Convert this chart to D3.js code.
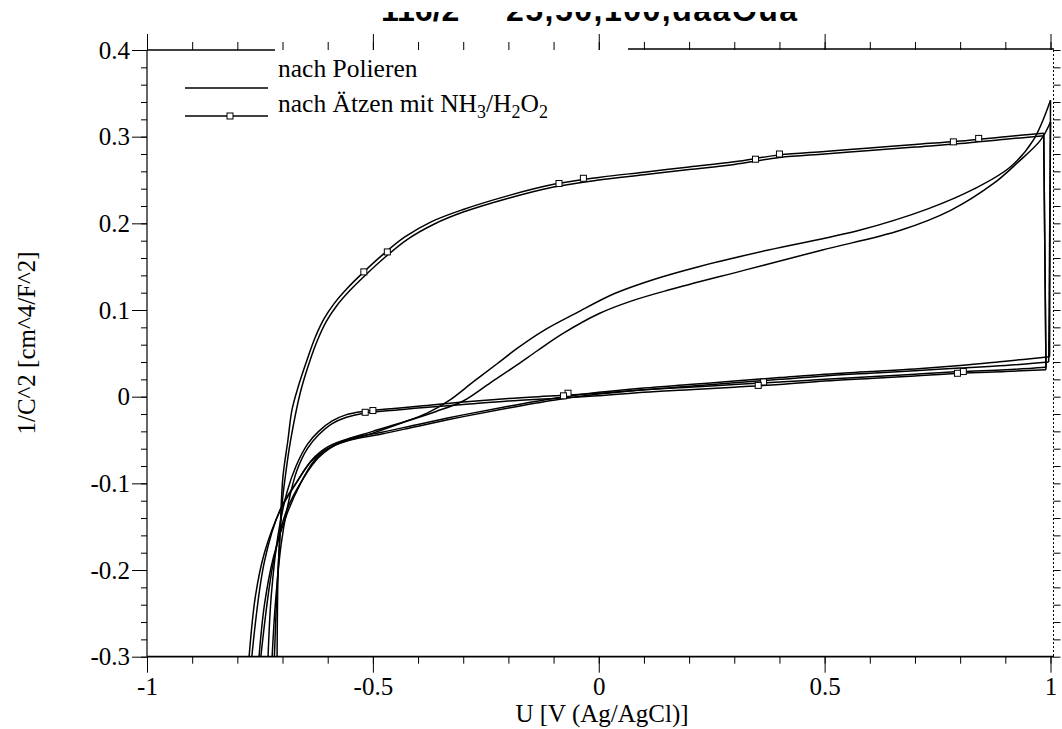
<!DOCTYPE html>
<html>
<head>
<meta charset="utf-8">
<script src="https://cdn.jsdelivr.net/npm/d3@7"></script>
<style>
  body { margin: 0; background: #fff; }
  svg { display: block; }
  .tick text { font-family: "Liberation Serif", "Times New Roman", serif; font-size: 25px; fill: #000; }
</style>
</head>
<body>
<svg id="chart" width="1062" height="729"></svg>
<script>
// ---- Mott-Schottky sweeps: 1/C^2 vs. U, two cycles per surface treatment ----

// "nach Polieren": rising branch, two cycles
const polUp1X = [-0.768, -0.74, -0.705, -0.668, -0.632, -0.58, -0.5, -0.44, -0.38, -0.33, -0.278, -0.225, -0.18, -0.123, -0.05, 0.035, 0.12, 0.221, 0.373, 0.577, 0.73, 0.832, 0.911, 0.962, 1.0];
const polUp1Y = [-0.3, -0.19, -0.13, -0.098, -0.072, -0.055, -0.042, -0.031, -0.019, -0.004, 0.017, 0.038, 0.056, 0.076, 0.0965, 0.119, 0.135, 0.150, 0.169, 0.192, 0.217, 0.240, 0.265, 0.296, 0.342];
const polUp2X = [-0.748, -0.72, -0.69, -0.655, -0.62, -0.57, -0.5, -0.43, -0.36, -0.3, -0.24, -0.18, -0.136, -0.079, 0.001, 0.07, 0.154, 0.323, 0.493, 0.668, 0.779, 0.874, 0.927, 0.978, 1.0];
const polUp2Y = [-0.3, -0.19, -0.13, -0.095, -0.07, -0.052, -0.04, -0.029, -0.017, -0.005, 0.016, 0.037, 0.053, 0.073, 0.096, 0.110, 0.123, 0.146, 0.169, 0.192, 0.215, 0.246, 0.27, 0.296, 0.317];
// "nach Polieren": return branch after the reversal at +1 V
const polDown1X = [0.998, 0.9, 0.8, 0.7, 0.6, 0.5, 0.4, 0.3, 0.2, 0.1, 0.0, -0.1, -0.2, -0.3, -0.4, -0.48, -0.55, -0.6, -0.635, -0.67, -0.705, -0.74, -0.76, -0.774];
const polDown1Y = [0.046, 0.041, 0.036, 0.032, 0.029, 0.026, 0.022, 0.018, 0.014, 0.010, 0.005, -0.002, -0.011, -0.021, -0.032, -0.041, -0.048, -0.058, -0.073, -0.10, -0.131, -0.18, -0.23, -0.30];
const polDown2X = [0.996, 0.9, 0.8, 0.7, 0.6, 0.5, 0.4, 0.3, 0.2, 0.1, 0.0, -0.1, -0.2, -0.3, -0.4, -0.48, -0.55, -0.6, -0.63, -0.66, -0.69, -0.72, -0.74, -0.752];
const polDown2Y = [0.040, 0.036, 0.033, 0.030, 0.027, 0.024, 0.020, 0.016, 0.012, 0.008, 0.003, -0.004, -0.013, -0.023, -0.034, -0.043, -0.050, -0.060, -0.074, -0.10, -0.135, -0.185, -0.24, -0.30];

// "nach Ätzen mit NH3/H2O2": rising branch, two cycles
const etchUp1X = [-0.712, -0.71, -0.705, -0.699, -0.688, -0.679, -0.665, -0.646, -0.628, -0.608, -0.585, -0.555, -0.52, -0.48, -0.43, -0.37, -0.3, -0.2, -0.1, 0.0, 0.1, 0.2, 0.3, 0.4, 0.5, 0.6, 0.7, 0.8, 0.9, 0.985];
const etchUp1Y = [-0.30, -0.208, -0.15, -0.092, -0.05, -0.015, 0.012, 0.042, 0.068, 0.090, 0.108, 0.126, 0.144, 0.163, 0.184, 0.202, 0.216, 0.232, 0.245, 0.253, 0.259, 0.265, 0.271, 0.279, 0.283, 0.287, 0.291, 0.295, 0.300, 0.304];
const etchUp2X = [-0.718, -0.712, -0.706, -0.70, -0.692, -0.683, -0.661, -0.639, -0.622, -0.603, -0.58, -0.55, -0.515, -0.475, -0.425, -0.365, -0.3, -0.2, -0.1, 0.0, 0.1, 0.2, 0.3, 0.4, 0.5, 0.6, 0.7, 0.8, 0.9, 0.985];
const etchUp2Y = [-0.30, -0.22, -0.165, -0.119, -0.085, -0.053, 0.004, 0.042, 0.066, 0.087, 0.105, 0.123, 0.141, 0.160, 0.181, 0.199, 0.213, 0.229, 0.242, 0.250, 0.256, 0.262, 0.268, 0.276, 0.280, 0.284, 0.288, 0.292, 0.297, 0.301];
// "nach Ätzen mit NH3/H2O2": return branch
const etchDown1X = [0.99, 0.9, 0.8, 0.7, 0.6, 0.5, 0.4, 0.3, 0.2, 0.1, 0.0, -0.1, -0.2, -0.3, -0.4, -0.46, -0.52, -0.56, -0.59, -0.62, -0.645, -0.67, -0.69, -0.71, -0.725, -0.732];
const etchDown1Y = [0.034, 0.031, 0.029, 0.026, 0.023, 0.020, 0.017, 0.014, 0.011, 0.008, 0.004, 0.001, -0.002, -0.006, -0.011, -0.014, -0.017, -0.021, -0.028, -0.040, -0.055, -0.08, -0.11, -0.16, -0.23, -0.30];
const etchDown2X = [0.99, 0.9, 0.8, 0.7, 0.6, 0.5, 0.4, 0.3, 0.2, 0.1, 0.0, -0.1, -0.2, -0.3, -0.4, -0.46, -0.52, -0.56, -0.59, -0.62, -0.645, -0.668, -0.686, -0.703, -0.716, -0.723];
const etchDown2Y = [0.031, 0.029, 0.027, 0.024, 0.021, 0.018, 0.014, 0.011, 0.008, 0.005, 0.001, -0.002, -0.005, -0.009, -0.013, -0.016, -0.019, -0.024, -0.031, -0.044, -0.060, -0.085, -0.12, -0.17, -0.24, -0.30];

// Square symbols on the etched-surface sweeps
const etchMarkUpX = [-0.52, -0.468, -0.088, -0.034, 0.347, 0.40, 0.785, 0.841];
const etchMarkUpY = [0.144, 0.167, 0.246, 0.252, 0.274, 0.280, 0.294, 0.298];
const etchMarkDownX = [0.807, 0.794, 0.365, 0.353, -0.068, -0.078, -0.50, -0.517];
const etchMarkDownY = [0.029, 0.027, 0.017, 0.013, 0.004, 0.001, -0.016, -0.018];

// Axis ticks
const xMajorTicks = [-1, -0.5, 0, 0.5, 1];
const xTickLabels = ["-1", "-0.5", "0", "0.5", "1"];
const xMinorTicks = d3.range(-10, 11).map(i => i / 10);
const yMajorTicks = [0.4, 0.3, 0.2, 0.1, 0, -0.1, -0.2, -0.3];
const yTickLabels = ["0.4", "0.3", "0.2", "0.1", "0", "-0.1", "-0.2", "-0.3"];
const yMinorTicks = d3.range(-15, 21).map(i => i / 50);

const legendLabels = ["nach Polieren", "nach Ätzen mit NH3/H2O2"];
const titleParts = ["116/2", "25,50,100,daaOua"];

// ---- drawing ----
const svg = d3.select("#chart");
const x = d3.scaleLinear().domain([-1, 1]).range([147, 1050.5]);
const y = d3.scaleLinear().domain([-0.3, 0.4]).range([656.7, 50]);
const serif = '"Liberation Serif", "Times New Roman", serif';

// title, only its lower part shows below the page edge
svg.append("clipPath").attr("id", "titleClip")
  .append("rect").attr("x", 0).attr("y", 12).attr("width", 1062).attr("height", 18);
const title = svg.append("g").attr("clip-path", "url(#titleClip)")
  .style("font-family", '"Liberation Sans", Arial, sans-serif')
  .style("font-weight", "bold").style("font-size", "32px");
title.append("text").attr("x", 381).attr("y", 21).text(titleParts[0]);
title.append("text").attr("x", 506).attr("y", 21).attr("letter-spacing", 1.5).text(titleParts[1]);

// frame
const frame = svg.append("g").attr("stroke", "#000").attr("fill", "none");
frame.append("line").attr("x1", x(-1)).attr("x2", x(-1)).attr("y1", y(0.4)).attr("y2", y(-0.3)).attr("stroke-width", 1.2);
frame.append("line").attr("x1", x(-1)).attr("x2", 1054).attr("y1", y(-0.3)).attr("y2", y(-0.3)).attr("stroke-width", 1.8);
frame.append("line").attr("x1", x(-1)).attr("x2", 275).attr("y1", y(0.4)).attr("y2", y(0.4)).attr("stroke-width", 1.4);
frame.append("line").attr("x1", 628).attr("x2", 1054).attr("y1", y(0.4) - 1).attr("y2", y(0.4) - 1).attr("stroke-width", 1.4);
frame.append("line").attr("x1", 1053.5).attr("x2", 1053.5).attr("y1", y(0.4)).attr("y2", y(-0.3))
  .attr("stroke-width", 1).attr("stroke-dasharray", "2,2");

function cleanAxis(g) { g.select(".domain").remove(); g.selectAll(".tick line").attr("stroke", "#000"); }

// bottom axis
svg.append("g").attr("transform", `translate(0,${y(-0.3)})`)
  .call(d3.axisBottom(x).tickValues(xMinorTicks).tickSize(7).tickFormat(""))
  .call(cleanAxis);
svg.append("g").attr("transform", `translate(0,${y(-0.3)})`)
  .call(d3.axisBottom(x).tickValues(xMajorTicks).tickSize(16).tickPadding(5)
    .tickFormat((d, i) => xTickLabels[i]))
  .call(cleanAxis);

// top axis (outward ticks)
svg.append("g").attr("transform", `translate(0,${y(0.4)})`)
  .call(d3.axisTop(x).tickValues(xMinorTicks).tickSize(8).tickFormat(""))
  .call(cleanAxis);
svg.append("g").attr("transform", `translate(0,${y(0.4)})`)
  .call(d3.axisTop(x).tickValues(xMajorTicks).tickSize(16).tickFormat(""))
  .call(cleanAxis);

// left axis
svg.append("g").attr("transform", `translate(${x(-1)},0)`)
  .call(d3.axisLeft(y).tickValues(yMinorTicks).tickSize(6).tickFormat(""))
  .call(cleanAxis);
svg.append("g").attr("transform", `translate(${x(-1)},0)`)
  .call(d3.axisLeft(y).tickValues(yMajorTicks).tickSize(15).tickPadding(2)
    .tickFormat((d, i) => yTickLabels[i]))
  .call(cleanAxis);

// right axis (dotted, outward ticks)
svg.append("g").attr("transform", "translate(1053.5,0)")
  .call(d3.axisRight(y).tickValues(yMinorTicks).tickSize(7).tickFormat(""))
  .call(cleanAxis);

// axis titles
svg.append("text").attr("x", 602).attr("y", 722).attr("text-anchor", "middle")
  .style("font-family", serif).style("font-size", "25px").text("U [V (Ag/AgCl)]");
svg.append("text").attr("transform", "translate(35,343) rotate(-90)").attr("text-anchor", "middle")
  .style("font-family", serif).style("font-size", "25px").text("1/C^2 [cm^4/F^2]");

// curves
svg.append("clipPath").attr("id", "plotClip").append("rect")
  .attr("x", x(-1)).attr("y", y(0.4)).attr("width", 1054 - x(-1)).attr("height", y(-0.3) - y(0.4));
const plot = svg.append("g").attr("clip-path", "url(#plotClip)");

const zip = (xs, ys) => xs.map((v, i) => [v, ys[i]]);
const smooth = d3.line().x(d => x(d[0])).y(d => y(d[1])).curve(d3.curveCatmullRom.alpha(0.5));
const straight = d3.line().x(d => x(d[0])).y(d => y(d[1]));

const sweeps = [
  [polUp1X, polUp1Y, polDown1X, polDown1Y],
  [polUp2X, polUp2Y, polDown2X, polDown2Y],
  [etchUp1X, etchUp1Y, etchDown1X, etchDown1Y],
  [etchUp2X, etchUp2Y, etchDown2X, etchDown2Y]
];
sweeps.forEach(([ux, uy, dx, dy]) => {
  const up = zip(ux, uy), down = zip(dx, dy);
  const g = plot.append("g").attr("fill", "none").attr("stroke", "#000").attr("stroke-width", 1.5);
  g.append("path").attr("d", smooth(up));
  g.append("path").attr("d", straight([up[up.length - 1], down[0]]));
  g.append("path").attr("d", smooth(down));
});

const marks = zip(etchMarkUpX, etchMarkUpY).concat(zip(etchMarkDownX, etchMarkDownY));
plot.selectAll("rect.mark").data(marks).join("rect").attr("class", "mark")
  .attr("x", d => x(d[0]) - 3).attr("y", d => y(d[1]) - 3).attr("width", 6).attr("height", 6)
  .attr("fill", "#fff").attr("stroke", "#000").attr("stroke-width", 1);

// legend
const legend = svg.append("g").style("font-family", serif).style("font-size", "25.5px");
legend.append("line").attr("x1", 185).attr("x2", 268).attr("y1", 88).attr("y2", 88)
  .attr("stroke", "#000").attr("stroke-width", 1.6);
legend.append("text").attr("x", 278).attr("y", 77).text(legendLabels[0]);
legend.append("line").attr("x1", 185).attr("x2", 268).attr("y1", 116).attr("y2", 116)
  .attr("stroke", "#000").attr("stroke-width", 1.4);
legend.append("rect").attr("x", 227).attr("y", 113).attr("width", 6).attr("height", 6)
  .attr("fill", "#fff").attr("stroke", "#000");
// chemical formula with subscripts
const t2 = legend.append("text").attr("x", 278).attr("y", 112);
let inSub = false;
legendLabels[1].split(/(\d)/).forEach(part => {
  if (!part) return;
  const sub = /\d/.test(part);
  const shift = sub === inSub ? 0 : (sub ? 6 : -6);
  const ts = t2.append("tspan").attr("dy", shift).text(part);
  if (sub) ts.style("font-size", "18px");
  inSub = sub;
});
</script>
</body>
</html>
